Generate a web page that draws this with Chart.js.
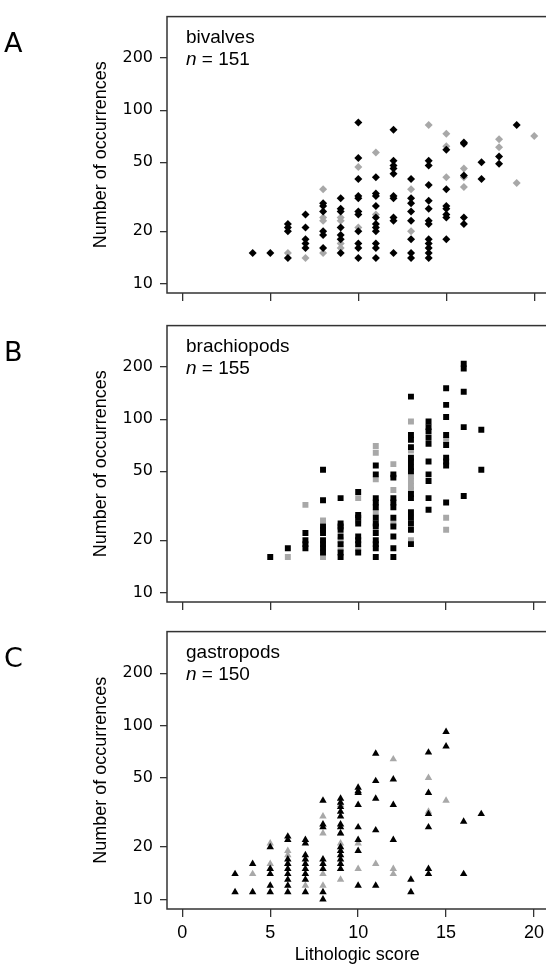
<!DOCTYPE html>
<html>
<head>
<meta charset="utf-8">
<script src="https://cdn.jsdelivr.net/npm/chart.js@4.4.0/dist/chart.umd.min.js"></script>
<style>
  html, body { margin: 0; padding: 0; background: #fff; overflow: hidden; }
  body { width: 546px; height: 969px; position: relative; }
  canvas { position: absolute; left: 0; }
</style>
</head>
<body>
<canvas id="chartA" width="552" height="310" style="top:0px"></canvas>
<canvas id="chartB" width="552" height="310" style="top:309px"></canvas>
<canvas id="chartC" width="552" height="354" style="top:615px"></canvas>
<script>
// axis ticks
const scoreTicks = [0, 5, 10, 15, 20];
const countTicks = [10, 20, 50, 100, 200];

// [lithologic score, number of occurrences]
const bivalvesBlack = [
  [4, 15], [5, 15],
  [6, 22], [6, 21], [6, 20], [6, 14],
  [7, 25], [7, 21], [7, 18], [7, 17], [7, 16],
  [8, 29], [8, 28], [8, 26], [8, 20], [8, 19], [8, 16],
  [9, 31], [9, 27], [9, 26], [9, 21], [9, 19], [9, 18], [9, 15],
  [10, 85], [10, 53], [10, 40], [10, 32], [10, 31], [10, 26], [10, 25], [10, 20], [10, 17], [10, 16], [10, 14],
  [11, 41], [11, 33], [11, 32], [11, 28], [11, 24], [11, 22], [11, 21], [11, 20], [11, 17], [11, 16], [11, 14],
  [12, 77], [12, 51], [12, 48], [12, 46], [12, 43], [12, 32], [12, 31], [12, 24], [12, 23], [12, 15],
  [13, 40], [13, 31], [13, 29], [13, 26], [13, 23], [13, 18], [13, 15], [13, 14],
  [14, 51], [14, 48], [14, 37], [14, 30], [14, 27], [14, 23], [14, 22], [14, 18], [14, 17], [14, 16], [14, 15], [14, 14],
  [15, 59], [15, 35], [15, 28], [15, 27], [15, 25], [15, 24], [15, 18],
  [16, 65], [16, 64], [16, 42], [16, 24], [16, 22],
  [17, 50], [17, 40], [18, 54], [18, 49], [19, 82]
];
const bivalvesGrey = [
  [6, 15], [7, 14], [8, 35], [8, 24], [8, 23], [8, 15],
  [9, 24], [9, 23], [9, 17], [9, 16], [10, 47], [10, 21], [11, 57], [11, 25],
  [13, 35], [13, 20], [14, 82], [15, 73], [15, 62], [15, 41],
  [16, 46], [16, 41], [16, 36], [18, 68], [18, 61], [19, 38], [20, 71]
];

const brachiopodsBlack = [
  [5, 16], [6, 18],
  [7, 22], [7, 20], [7, 19], [7, 18],
  [8, 51], [8, 34], [8, 24], [8, 23], [8, 22], [8, 20], [8, 19], [8, 18], [8, 17],
  [9, 35], [9, 25], [9, 24], [9, 23], [9, 21], [9, 19], [9, 17], [9, 16],
  [10, 38], [10, 28], [10, 27], [10, 25], [10, 21], [10, 20], [10, 19], [10, 17],
  [11, 54], [11, 48], [11, 35], [11, 33], [11, 31], [11, 27], [11, 25], [11, 24], [11, 22], [11, 20], [11, 19], [11, 18], [11, 16],
  [12, 48], [12, 46], [12, 35], [12, 33], [12, 31], [12, 27], [12, 24], [12, 21], [12, 18], [12, 16],
  [13, 135], [13, 81], [13, 76], [13, 69], [13, 60], [13, 57], [13, 53], [13, 50], [13, 37], [13, 35], [13, 29], [13, 27], [13, 25], [13, 23], [13, 19],
  [14, 97], [14, 90], [14, 85], [14, 78], [14, 72], [14, 57], [14, 48], [14, 44], [14, 35], [14, 30],
  [15, 151], [15, 121], [15, 103], [15, 81], [15, 71], [15, 60], [15, 57], [15, 54], [15, 33],
  [16, 209], [16, 196], [16, 144], [16, 90], [16, 36],
  [17, 87], [17, 51]
];
const brachiopodsGrey = [
  [6, 16], [7, 32], [8, 26], [8, 16], [9, 20], [9, 18],
  [10, 35], [10, 26], [10, 18], [11, 70], [11, 64], [11, 45], [11, 29],
  [12, 55], [12, 39], [12, 25],
  [13, 97], [13, 66], [13, 47], [13, 44], [13, 41], [13, 39], [13, 20],
  [15, 76], [15, 27], [15, 23]
];

const gastropodsBlack = [
  [3, 14], [3, 11], [4, 16], [4, 11],
  [5, 20], [5, 15], [5, 14], [5, 12], [5, 11],
  [6, 23], [6, 22], [6, 17], [6, 16], [6, 15], [6, 14], [6, 13], [6, 12], [6, 11],
  [7, 22], [7, 21], [7, 18], [7, 17], [7, 16], [7, 15], [7, 14], [7, 13], [7, 11],
  [8, 37], [8, 27], [8, 26], [8, 17], [8, 16], [8, 15], [8, 11], [8, 10],
  [9, 38], [9, 36], [9, 34], [9, 32], [9, 30], [9, 27], [9, 26], [9, 24], [9, 20], [9, 19], [9, 18], [9, 17], [9, 16], [9, 15],
  [10, 44], [10, 42], [10, 41], [10, 35], [10, 26], [10, 22], [10, 19], [10, 12],
  [11, 69], [11, 48], [11, 38], [11, 25], [11, 12],
  [12, 49], [12, 35], [12, 22], [13, 13], [13, 11],
  [14, 70], [14, 41], [14, 31], [14, 26], [14, 15], [14, 14],
  [15, 92], [15, 76], [16, 28], [16, 14], [17, 31]
];
const gastropodsGrey = [
  [4, 14], [5, 21], [5, 16], [5, 15], [6, 19], [6, 18], [6, 16],
  [7, 14], [7, 12], [8, 30], [8, 24], [8, 14], [8, 12],
  [9, 35], [9, 24], [9, 21], [9, 13], [10, 21], [10, 15], [11, 16],
  [12, 64], [12, 15], [12, 14], [14, 50], [14, 32], [15, 37]
];

const toPoints = arr => arr.map(p => ({ x: p[0], y: p[1] }));

// frame, panel letter, group name and n
const panelText = {
  id: 'panelText',
  afterDraw(chart, args, opts) {
    const { ctx, chartArea: a } = chart;
    ctx.save();
    ctx.strokeStyle = '#333';
    ctx.lineWidth = 1.5;
    ctx.strokeRect(a.left, a.top, a.right - a.left, a.bottom - a.top);
    ctx.fillStyle = '#000';
    ctx.textBaseline = 'alphabetic';
    ctx.textAlign = 'left';
    ctx.font = '27px "DejaVu Sans"';
    ctx.fillText(opts.letter, 4, a.top + 35);
    ctx.font = '19px "Liberation Sans"';
    ctx.fillText(opts.group, a.left + 19, a.top + 26);
    ctx.font = 'italic 19px "Liberation Sans"';
    ctx.fillText('n', a.left + 19, a.top + 48);
    const w = ctx.measureText('n').width;
    ctx.font = '19px "Liberation Sans"';
    ctx.fillText(' = ' + opts.n, a.left + 19 + w, a.top + 48);
    ctx.restore();
  }
};

function makePanel(id, letter, group, n, black, grey, style, radius, lastPanel) {
  const canvasH = lastPanel ? 354 : 310;
  const padTop = lastPanel ? 7 : 6;
  new Chart(document.getElementById(id), {
    type: 'scatter',
    data: {
      datasets: [
        { data: toPoints(black), backgroundColor: '#000', pointStyle: style, pointRadius: radius, borderWidth: 0 },
        { data: toPoints(grey), backgroundColor: '#a8a8a8', pointStyle: style, pointRadius: radius, borderWidth: 0 }
      ]
    },
    options: {
      responsive: false,
      animation: false,
      events: [],
      layout: { padding: { top: padTop, right: 4, bottom: 0, left: 0 } },
      plugins: {
        legend: { display: false },
        tooltip: { enabled: false },
        panelText: { letter: letter, group: group, n: n }
      },
      scales: {
        x: {
          type: 'linear',
          min: -0.87,
          max: 20.78,
          afterBuildTicks: s => { s.ticks = scoreTicks.map(v => ({ value: v })); },
          afterFit: s => { s.height = canvasH - padTop - 287; },
          border: { display: false },
          grid: { display: true, drawOnChartArea: false, drawTicks: true, tickLength: 8, color: '#333', lineWidth: 1.3 },
          ticks: {
            display: lastPanel,
            color: '#000',
            padding: 5,
            maxRotation: 0,
            font: { family: 'Liberation Sans', size: 18 }
          },
          title: {
            display: lastPanel,
            text: 'Lithologic score',
            color: '#000',
            font: { family: 'Liberation Sans', size: 18 },
            padding: { top: 0, bottom: 3 }
          }
        },
        y: {
          type: 'logarithmic',
          min: 8.8,
          max: 347,
          afterBuildTicks: s => { s.ticks = countTicks.map(v => ({ value: v })); },
          afterFit: s => { s.width = 167; },
          border: { display: false },
          grid: { display: true, drawOnChartArea: false, drawTicks: true, tickLength: 7, color: '#333', lineWidth: 1.3 },
          ticks: {
            color: '#000',
            padding: 7,
            callback: v => String(v),
            font: { family: 'DejaVu Sans', size: 16 }
          },
          title: {
            display: true,
            text: 'Number of occurrences',
            color: '#000',
            font: { family: 'Liberation Sans', size: 18 },
            padding: { top: 90, bottom: 0 }
          }
        }
      }
    },
    plugins: [panelText]
  });
}

makePanel('chartA', 'A', 'bivalves', 151, bivalvesBlack, bivalvesGrey, 'rectRot', 4, false);
makePanel('chartB', 'B', 'brachiopods', 155, brachiopodsBlack, brachiopodsGrey, 'rect', 4.2, false);
makePanel('chartC', 'C', 'gastropods', 150, gastropodsBlack, gastropodsGrey, 'triangle', 4.3, true);
</script>
</body>
</html>
